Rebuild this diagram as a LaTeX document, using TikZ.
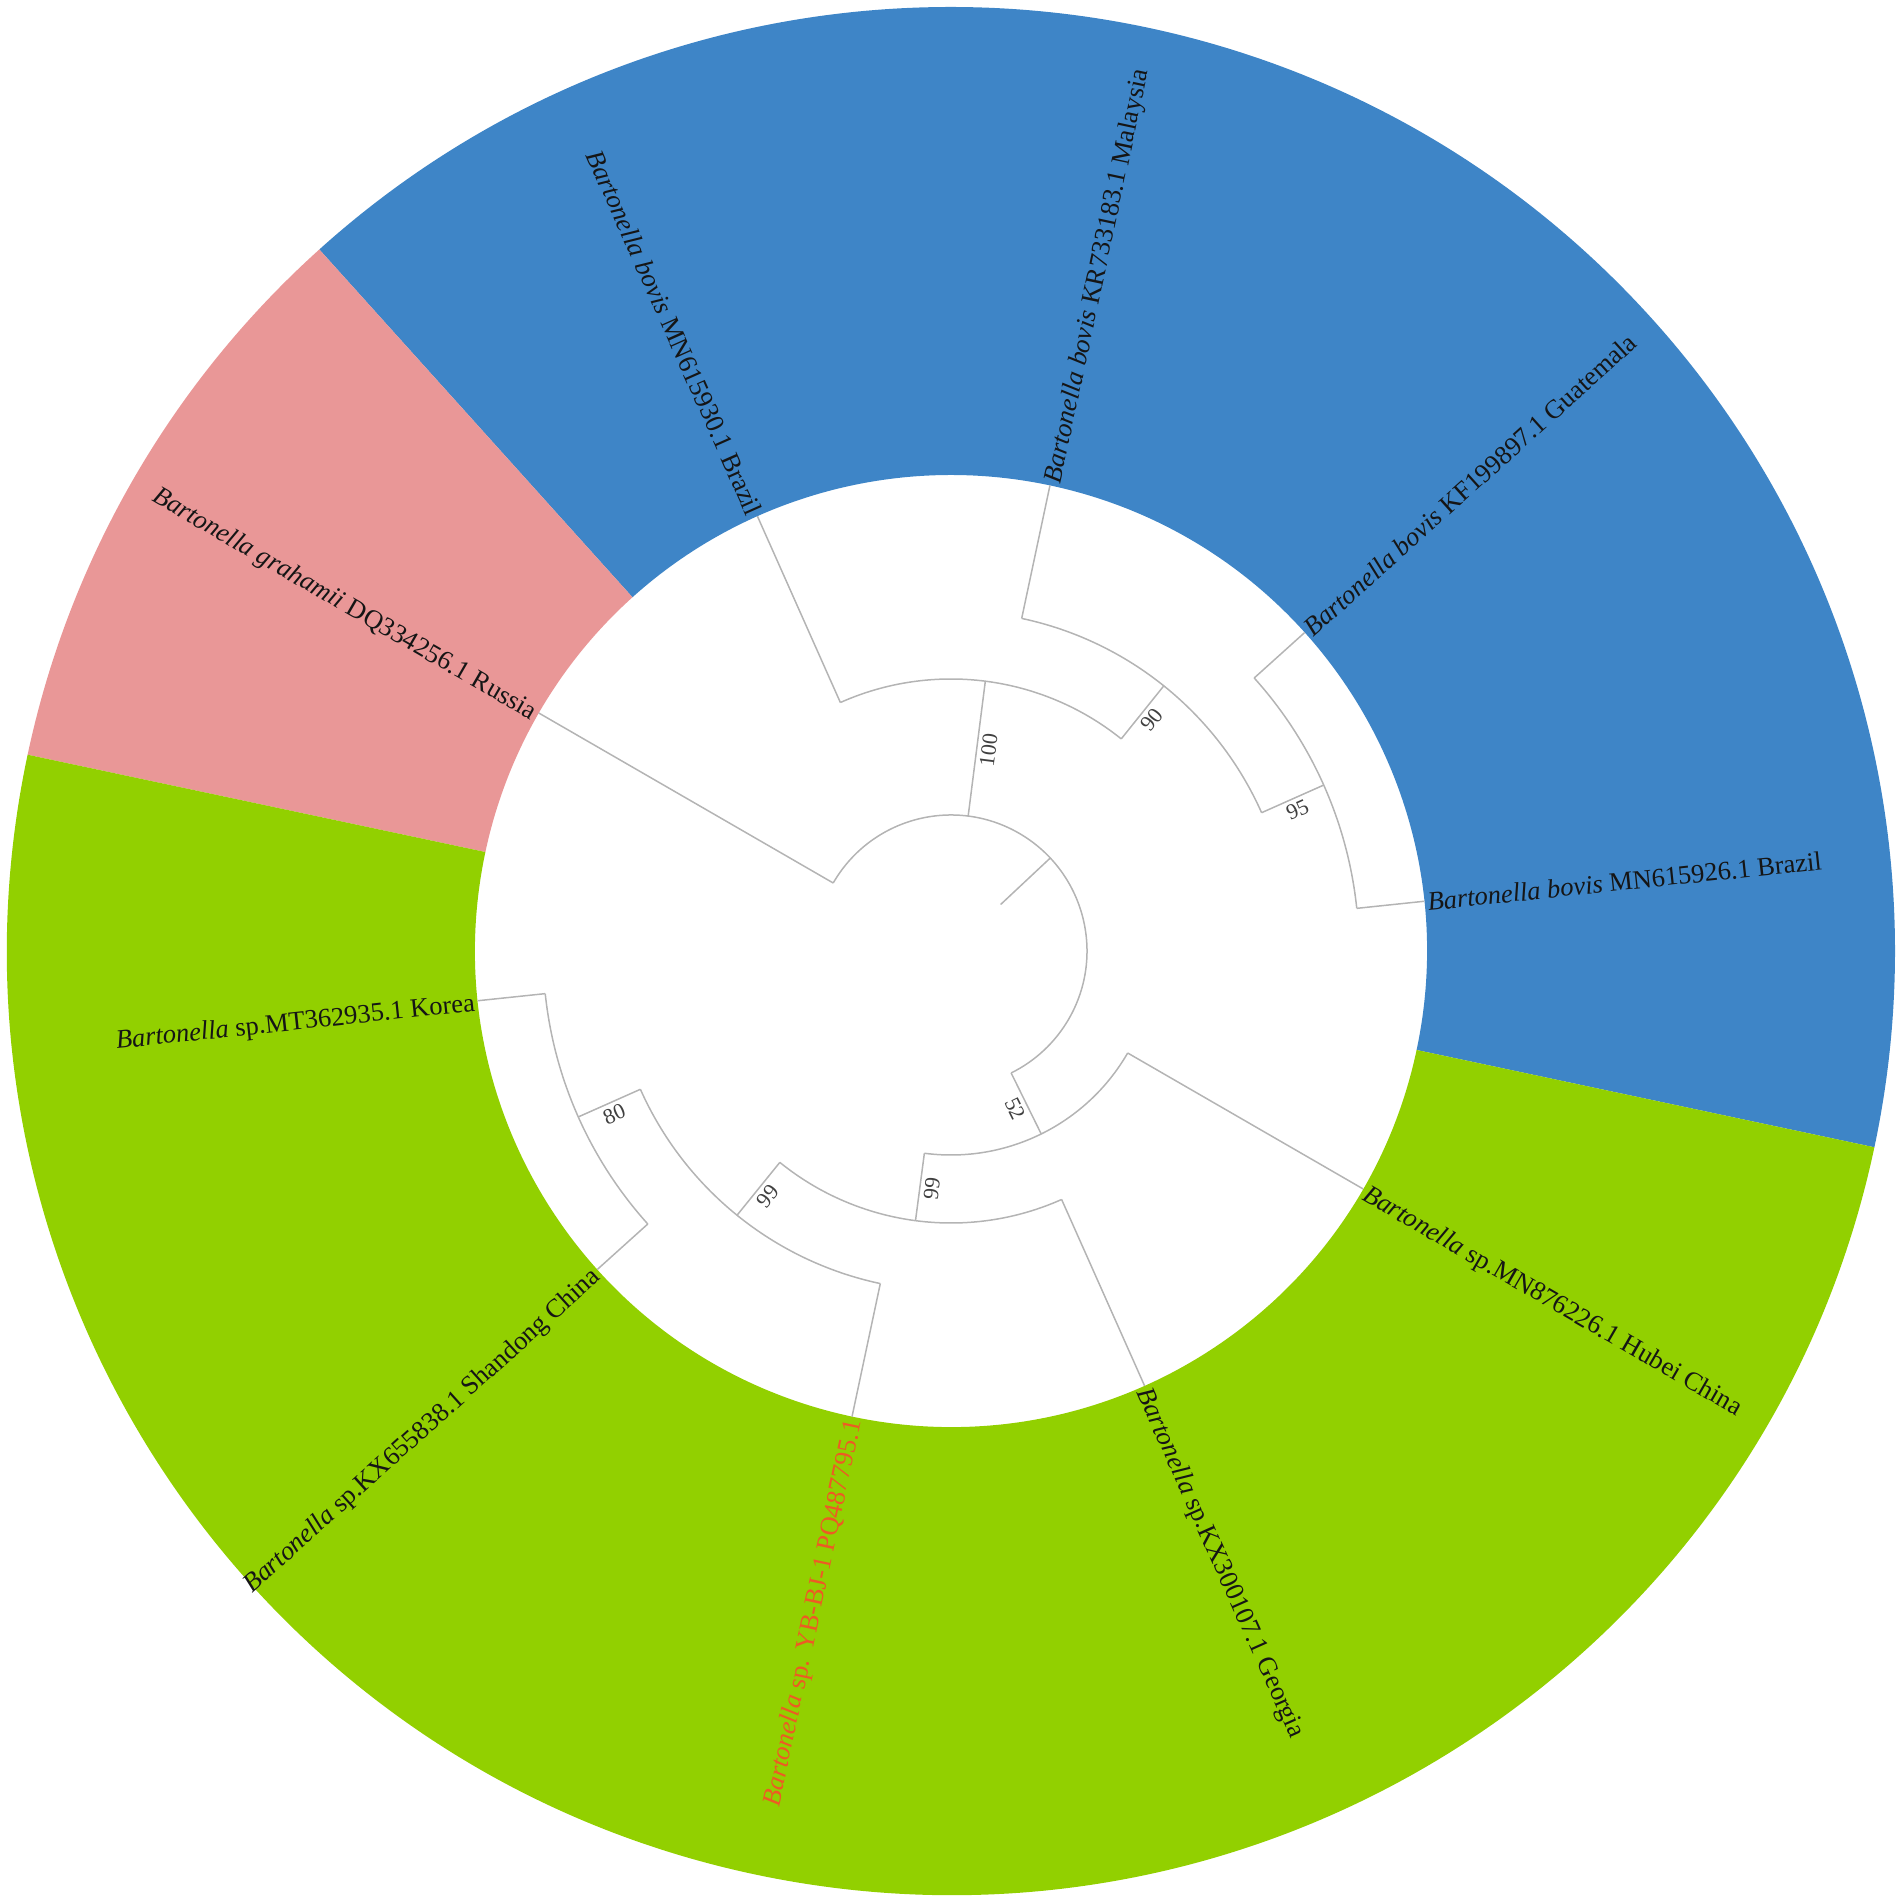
\documentclass[tikz,border=0pt]{standalone}
\usepackage{fontspec}
\setmainfont{Liberation Serif}
\usetikzlibrary{calc}
\definecolor{ringblue}{HTML}{3E85C7}
\definecolor{ringpink}{HTML}{E99797}
\definecolor{ringgreen}{HTML}{92D000}
\definecolor{branchgray}{HTML}{B4B4B4}
\definecolor{hilite}{HTML}{EE5A24}
\definecolor{labeltext}{HTML}{151515}
\begin{document}
\begin{tikzpicture}[x=1pt,y=1pt,
  treeline/.style={draw=branchgray, line width=1.5pt},
  leafR/.style={anchor=base west, inner sep=0pt, font=\fontsize{26.5}{30}\selectfont, text=labeltext},
  leafL/.style={anchor=base east, inner sep=0pt, font=\fontsize{26.5}{30}\selectfont, text=labeltext},
  boot/.style={anchor=center, inner sep=0pt, font=\fontsize{22}{26}\selectfont, text=black!75}]
\useasboundingbox (-951pt,-951pt) rectangle (951pt,951pt);

% coloured ring sectors
\fill[ringblue] (-12:476pt) arc[start angle=-12, end angle=132, radius=476pt] -- (132:944pt) arc[start angle=132, end angle=-12, radius=944pt] -- cycle;
\fill[ringpink] (132:476pt) arc[start angle=132, end angle=168, radius=476pt] -- (168:944pt) arc[start angle=168, end angle=132, radius=944pt] -- cycle;
\fill[ringgreen] (168:476pt) arc[start angle=168, end angle=348, radius=476pt] -- (348:944pt) arc[start angle=348, end angle=168, radius=944pt] -- cycle;

% tree nodes (coordinates)
\coordinate (R0) at (43.125:68pt);
\coordinate (R) at (43.125:136pt);
\coordinate (Rs) at (150:136pt);
\coordinate (Lgra) at (150:476pt);
\coordinate (N100a) at (82.75:136pt);
\coordinate (N100) at (82.75:272pt);
\coordinate (N100s) at (114:272pt);
\coordinate (Lbra2) at (114:476pt);
\coordinate (N90a) at (51.25:272pt);
\coordinate (N90) at (51.25:340pt);
\coordinate (N90s) at (78:340pt);
\coordinate (Lmal) at (78:476pt);
\coordinate (N95a) at (24:340pt);
\coordinate (N95) at (24:408pt);
\coordinate (N95s) at (42:408pt);
\coordinate (Lgua) at (42:476pt);
\coordinate (N95e) at (6:408pt);
\coordinate (Lbra1) at (6:476pt);
\coordinate (N52a) at (296.25:136pt);
\coordinate (N52) at (296.25:204pt);
\coordinate (N52s) at (330:204pt);
\coordinate (Lhub) at (330:476pt);
\coordinate (N99aa) at (262.5:204pt);
\coordinate (N99A) at (262.5:272pt);
\coordinate (N99As) at (294:272pt);
\coordinate (Lgeo) at (294:476pt);
\coordinate (N99ba) at (231:272pt);
\coordinate (N99B) at (231:340pt);
\coordinate (N99Bs) at (258:340pt);
\coordinate (Lpq) at (258:476pt);
\coordinate (N80a) at (204:340pt);
\coordinate (N80) at (204:408pt);
\coordinate (N80s) at (222:408pt);
\coordinate (Lsha) at (222:476pt);
\coordinate (N80e) at (186:408pt);
\coordinate (Lkor) at (186:476pt);

% branches
\draw[treeline] (R0) -- (R);
\draw[treeline] (Rs) arc[start angle=150, end angle=-63.75, radius=136pt];
\draw[treeline] (Rs) -- (Lgra);
\draw[treeline] (N100a) -- (N100);
\draw[treeline] (N100s) arc[start angle=114, end angle=51.25, radius=272pt];
\draw[treeline] (N100s) -- (Lbra2);
\draw[treeline] (N90a) -- (N90);
\draw[treeline] (N90s) arc[start angle=78, end angle=24, radius=340pt];
\draw[treeline] (N90s) -- (Lmal);
\draw[treeline] (N95a) -- (N95);
\draw[treeline] (N95s) arc[start angle=42, end angle=6, radius=408pt];
\draw[treeline] (N95s) -- (Lgua);
\draw[treeline] (N95e) -- (Lbra1);
\draw[treeline] (N52a) -- (N52);
\draw[treeline] (N52s) arc[start angle=330, end angle=262.5, radius=204pt];
\draw[treeline] (N52s) -- (Lhub);
\draw[treeline] (N99aa) -- (N99A);
\draw[treeline] (N99As) arc[start angle=294, end angle=231, radius=272pt];
\draw[treeline] (N99As) -- (Lgeo);
\draw[treeline] (N99ba) -- (N99B);
\draw[treeline] (N99Bs) arc[start angle=258, end angle=204, radius=340pt];
\draw[treeline] (N99Bs) -- (Lpq);
\draw[treeline] (N80a) -- (N80);
\draw[treeline] (N80s) arc[start angle=222, end angle=186, radius=408pt];
\draw[treeline] (N80s) -- (Lsha);
\draw[treeline] (N80e) -- (Lkor);

% leaf labels
\node[leafR, rotate=6] (tbra1) at ($(6:479pt)+(-84:10pt)$) {\textit{Bartonella bovis} MN615926.1 Brazil};
\node[leafR, rotate=42] (tgua) at ($(42:479pt)+(-48:10pt)$) {\textit{Bartonella bovis} KF199897.1 Guatemala};
\node[leafR, rotate=78] (tmal) at ($(78:479pt)+(-12:10pt)$) {\textit{Bartonella bovis} KR733183.1 Malaysia};
\node[leafL, rotate=-66] (tbra2) at ($(114:479pt)+(204:10pt)$) {\textit{Bartonella bovis} MN615930.1 Brazil};
\node[leafL, rotate=-30] (tgra) at ($(150:479pt)+(240:10pt)$) {\textit{Bartonella grahamii} DQ334256.1 Russia};
\node[leafL, rotate=6] (tkor) at ($(186:479pt)+(276:10pt)$) {\textit{Bartonella} sp.MT362935.1 Korea};
\node[leafL, rotate=42] (tsha) at ($(222:479pt)+(312:10pt)$) {\textit{Bartonella} sp.KX655838.1 Shandong China};
\node[leafL, rotate=78, text=hilite] (tpq) at ($(258:479pt)+(348:10pt)$) {\textit{Bartonella} sp. YB-BJ-1 PQ487795.1};
\node[leafR, rotate=-66] (tgeo) at ($(294:479pt)+(204:10pt)$) {\textit{Bartonella} sp.KX300107.1 Georgia};
\node[leafR, rotate=-30] (thub) at ($(330:479pt)+(240:10pt)$) {\textit{Bartonella} sp.MN876226.1 Hubei China};

% bootstrap values
\node[boot, rotate=82.75] (b100) at ($(82.75:204pt)+(-7.25:12pt)$) {100};
\node[boot, rotate=51.25] (b90) at ($(51.25:306pt)+(-38.75:12pt)$) {90};
\node[boot, rotate=24] (b95) at ($(24:374pt)+(-66:12pt)$) {95};
\node[boot, rotate=-63.75] (b52) at ($(296.25:170pt)+(206.25:12pt)$) {52};
\node[boot, rotate=82.5] (b99a) at ($(262.5:238pt)+(352.5:12pt)$) {99};
\node[boot, rotate=51] (b99b) at ($(231:306pt)+(321:12pt)$) {99};
\node[boot, rotate=24] (b80) at ($(204:374pt)+(294:12pt)$) {80};
\end{tikzpicture}
\end{document}
